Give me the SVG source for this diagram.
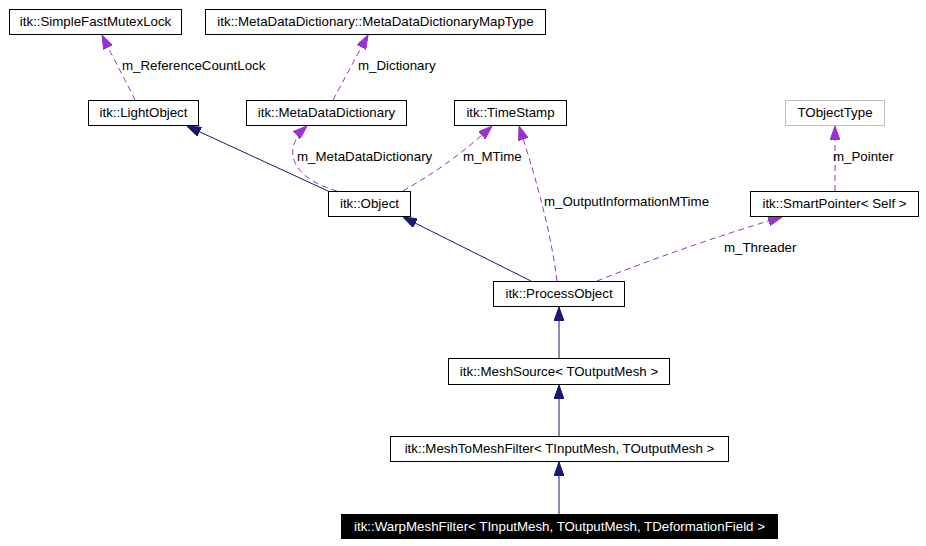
<svg xmlns="http://www.w3.org/2000/svg" width="926" height="546" viewBox="0 0 926 546">
<style>
  .box { fill: #ffffff; stroke: #000000; stroke-width: 1; }
  .gray { fill: #ffffff; stroke: #bfbfbf; stroke-width: 1; }
  .cur { fill: #000000; stroke: #000000; stroke-width: 1; }
  .t { font-family: "Liberation Sans", Arial, sans-serif; font-size: 13.3px; fill: #000000; text-anchor: middle; }
  .tw { font-family: "Liberation Sans", Arial, sans-serif; font-size: 13.3px; fill: #ffffff; text-anchor: middle; }
  .lbl { font-family: "Liberation Sans", Arial, sans-serif; font-size: 13.3px; fill: #000000; }
  .inh { fill: none; stroke: #191970; stroke-width: 1; marker-end: url(#navy); }
  .use { fill: none; stroke: #9a32cd; stroke-width: 1; stroke-dasharray: 6,4; marker-end: url(#purple); }
</style>
<defs>
  <marker id="navy" viewBox="0 0 14 10" refX="14" refY="5" markerWidth="14" markerHeight="10" markerUnits="userSpaceOnUse" orient="auto">
    <path d="M0,0 L14,5 L0,10 Z" fill="#191970" stroke="#191970" stroke-width="1"/>
  </marker>
  <marker id="purple" viewBox="0 0 14 10" refX="14" refY="5" markerWidth="14" markerHeight="10" markerUnits="userSpaceOnUse" orient="auto">
    <path d="M0,0 L14,5 L0,10 Z" fill="#9a32cd" stroke="#9a32cd" stroke-width="1"/>
  </marker>
</defs>
<rect width="926" height="546" fill="#ffffff"/>
<g id="connectors">
  <path class="use" d="M135,100 C128,85 115,62 102,35"/>
  <path class="use" d="M333,100 L368,35"/>
  <path class="inh" d="M328,191 L187,126"/>
  <path class="use" d="M337,191 C292,178 280,150 307,126"/>
  <path class="use" d="M403,191 C430,175 455,160 492,126"/>
  <path class="inh" d="M531,281 L403,217"/>
  <path class="use" d="M557,281 C552,240 540,190 519,126"/>
  <path class="use" d="M597,281 C650,260 720,235 782,217"/>
  <path class="use" d="M835,191 L835,126"/>
  <path class="inh" d="M559,358 L559,307"/>
  <path class="inh" d="M559,436 L559,385"/>
  <path class="inh" d="M559,514 L559,462"/>
  <text class="lbl" x="122" y="70">m_ReferenceCountLock</text>
  <text class="lbl" x="358" y="70">m_Dictionary</text>
  <text class="lbl" x="297" y="161">m_MetaDataDictionary</text>
  <text class="lbl" x="463" y="161">m_MTime</text>
  <text class="lbl" x="544" y="206">m_OutputInformationMTime</text>
  <text class="lbl" x="833" y="161">m_Pointer</text>
  <text class="lbl" x="724" y="252">m_Threader</text>
</g>
<g id="SimpleFastMutexLock">
  <rect class="box" x="9.5" y="9.5" width="172" height="25"/>
  <text class="t" x="95.5" y="26">itk::SimpleFastMutexLock</text>
</g>
<g id="MetaDataDictionaryMapType">
  <rect class="box" x="205.5" y="9.5" width="340" height="25"/>
  <text class="t" x="375.5" y="26">itk::MetaDataDictionary::MetaDataDictionaryMapType</text>
</g>
<g id="LightObject">
  <rect class="box" x="88.5" y="100.5" width="110" height="25"/>
  <text class="t" x="143.5" y="117">itk::LightObject</text>
</g>
<g id="MetaDataDictionary">
  <rect class="box" x="246.5" y="100.5" width="160" height="25"/>
  <text class="t" x="326.5" y="117">itk::MetaDataDictionary</text>
</g>
<g id="TimeStamp">
  <rect class="box" x="454.5" y="100.5" width="112" height="25"/>
  <text class="t" x="510.5" y="117">itk::TimeStamp</text>
</g>
<g id="TObjectType">
  <rect class="gray" x="785.5" y="100.5" width="99" height="25"/>
  <text class="t" x="835" y="117">TObjectType</text>
</g>
<g id="Object">
  <rect class="box" x="328.5" y="191.5" width="82" height="25"/>
  <text class="t" x="369.5" y="208">itk::Object</text>
</g>
<g id="SmartPointer">
  <rect class="box" x="750.5" y="191.5" width="168" height="25"/>
  <text class="t" x="834.5" y="208">itk::SmartPointer&lt; Self &gt;</text>
</g>
<g id="ProcessObject">
  <rect class="box" x="493.5" y="281.5" width="131" height="25"/>
  <text class="t" x="559" y="298">itk::ProcessObject</text>
</g>
<g id="MeshSource">
  <rect class="box" x="448.5" y="358.5" width="221" height="26"/>
  <text class="t" x="559" y="376">itk::MeshSource&lt; TOutputMesh &gt;</text>
</g>
<g id="MeshToMeshFilter">
  <rect class="box" x="390.5" y="436.5" width="338" height="25"/>
  <text class="t" x="559.5" y="453">itk::MeshToMeshFilter&lt; TInputMesh, TOutputMesh &gt;</text>
</g>
<g id="WarpMeshFilter">
  <rect class="cur" x="341.5" y="514.5" width="436" height="24"/>
  <text class="tw" x="559.5" y="531">itk::WarpMeshFilter&lt; TInputMesh, TOutputMesh, TDeformationField &gt;</text>
</g>
</svg>
